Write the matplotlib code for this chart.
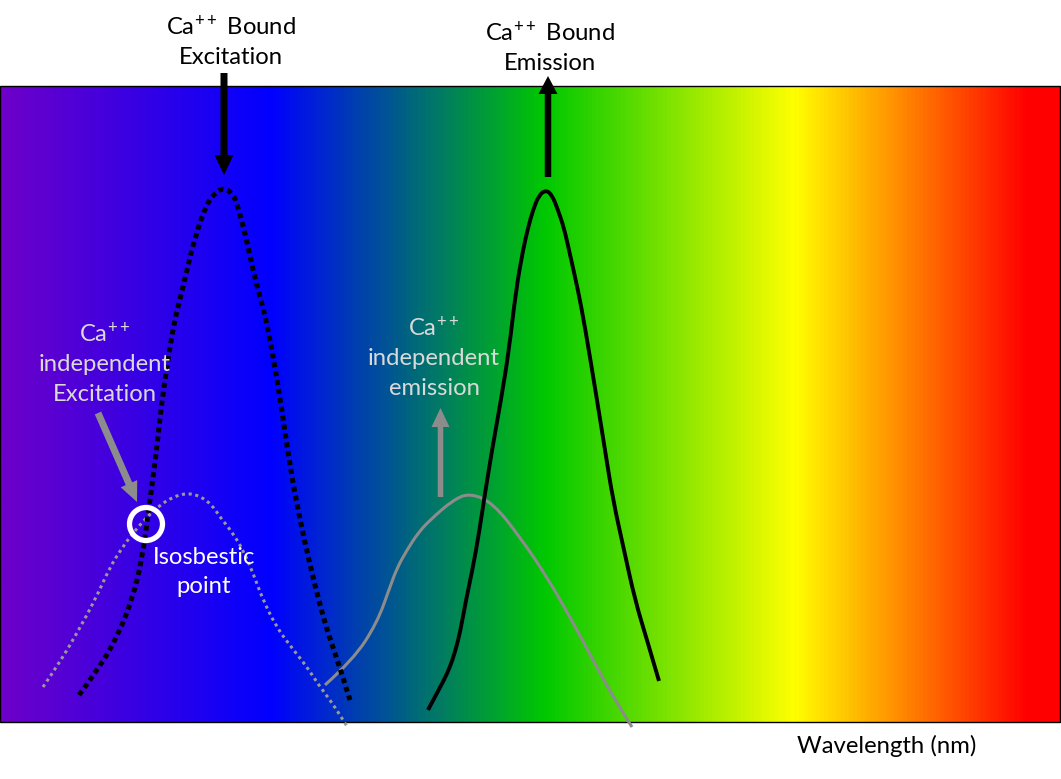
import numpy as np
import matplotlib.pyplot as plt
from matplotlib.colors import LinearSegmentedColormap
from matplotlib.patches import Rectangle, FancyArrow, Circle, PathPatch
from matplotlib.path import Path

plt.rcParams['font.family'] = ['Lato', 'DejaVu Sans']
plt.rcParams['mathtext.default'] = 'regular'

# spectrum colour stops (position across the band, colour)
spec_pos = [0.0, 0.255, 0.515, 0.75, 0.97, 1.0]
spec_col = ["#6e00c8", "#0000ff", "#00c800", "#ffff00", "#ff0000", "#ff0000"]

# Ca++ bound excitation (black dotted)
bound_ex_x = [79, 100, 118, 132, 142, 150, 156, 162, 168, 174, 181, 187, 195, 207, 216, 224,
              232, 237, 246, 253, 260, 267, 279, 290, 300, 310, 320, 328, 340, 350]
bound_ex_y = [695, 667, 635, 600, 560, 500, 455, 400, 360, 323, 295, 270, 237, 203, 192, 188,
              193, 203, 237, 270, 297, 323, 390, 467, 520, 565, 605, 633, 668, 700]

# Ca++ independent excitation (grey dotted)
indep_ex_x = [43, 60, 77, 95, 110, 122, 133, 146, 160, 173, 187, 200, 212, 220, 232, 243,
              253, 263, 277, 292, 307, 318, 330, 340, 348]
indep_ex_y = [687, 662, 633, 600, 567, 548, 533, 518, 505, 497, 493, 496, 505, 517, 532, 550,
              573, 600, 628, 648, 667, 684, 700, 715, 728]

# Ca++ bound emission (black solid)
bound_em_x = [428, 437, 444, 450, 455, 460, 466, 473, 479, 484, 492, 501, 509, 516, 523, 528,
              533, 539, 546, 552, 558, 564, 569, 578, 585, 597, 605, 613, 624, 635, 647, 659]
bound_em_y = [710, 693, 680, 667, 652, 633, 600, 567, 533, 500, 450, 400, 350, 290, 250, 228,
              210, 195, 190, 195, 210, 228, 250, 290, 327, 400, 450, 500, 550, 600, 640, 681]

# Ca++ independent emission (grey solid)
indep_em_x = [325, 353, 377, 390, 397, 407, 418, 430, 453, 470, 493, 520, 547, 570, 593, 613, 632]
indep_em_y = [685, 660, 623, 587, 568, 550, 533, 520, 500, 493, 503, 537, 577, 617, 660, 697, 727]

labels_top = ["Ca$^{++}$ Bound\nExcitation", "Ca$^{++}$ Bound\nEmission"]
label_indep_ex = "Ca$^{++}$\nindependent\nExcitation"
label_indep_em = "Ca$^{++}$\nindependent\nemission"
label_iso = "Isosbestic\npoint"
xlabel = "Wavelength (nm)"


def smooth_path(xs, ys):
    # quadratic bezier through midpoints, the points act as control points
    pts = np.column_stack([xs, ys]).astype(float)
    verts = [pts[0]]
    codes = [Path.MOVETO]
    for i in range(1, len(pts) - 1):
        mid = (pts[i] + pts[i + 1]) / 2
        if i == len(pts) - 2:
            mid = pts[i + 1]
        verts += [pts[i], mid]
        codes += [Path.CURVE3, Path.CURVE3]
    return Path(verts, codes)


fig = plt.figure(figsize=(10.61, 7.79), dpi=100)
ax = fig.add_axes([0, 0, 1, 1])
ax.set_xlim(0, 1061)
ax.set_ylim(779, 0)
ax.axis("off")

# spectrum background
cmap = LinearSegmentedColormap.from_list("spec", list(zip(spec_pos, spec_col)))
grad = np.linspace(0, 1, 1024).reshape(1, -1)
ax.imshow(grad, cmap=cmap, aspect="auto", extent=[0, 1060, 722, 86], zorder=0)
ax.add_patch(Rectangle((0, 86), 1060, 636, fill=False, edgecolor="black", lw=1.0, zorder=1))

# curves
curves = [
    (indep_ex_x, indep_ex_y, "#9a9a9a", 2.2, (0, (1, 1.2)), 2),
    (bound_ex_x, bound_ex_y, "black", 3.6, (0, (1, 0.8)), 3),
    (indep_em_x, indep_em_y, "#8c8c8c", 2.2, "-", 2),
    (bound_em_x, bound_em_y, "black", 2.8, "-", 3),
]
for xs, ys, col, lw, ls, z in curves:
    p = PathPatch(smooth_path(xs, ys), fill=False, edgecolor=col, lw=lw,
                  linestyle=ls, capstyle="butt", zorder=z)
    ax.add_patch(p)

# arrows
ax.add_patch(FancyArrow(224, 73, 0, 102, width=7, head_width=19, head_length=20,
                        length_includes_head=True, color="black", lw=0, zorder=4))
ax.add_patch(FancyArrow(548, 177, 0, -101, width=6.5, head_width=19, head_length=18,
                        length_includes_head=True, color="black", lw=0, zorder=4))
ax.add_patch(FancyArrow(98, 413, 39, 89, width=7, head_width=18, head_length=20,
                        length_includes_head=True, color="#8c8c8c", lw=0, zorder=4))
ax.add_patch(FancyArrow(440.5, 497, 0, -89, width=5.5, head_width=18, head_length=19,
                        length_includes_head=True, color="#8c8c8c", lw=0, zorder=4))

# isosbestic marker
ax.add_patch(Circle((146, 524), 16.5, fill=False, edgecolor="white", lw=3.8, zorder=5))

# texts
fs = 17.2
ls_ = 1.5
ax.text(231, 41, labels_top[0], ha="center", va="center", fontsize=fs, color="black",
        linespacing=ls_)
ax.text(550, 47, labels_top[1], ha="center", va="center", fontsize=fs, color="black",
        linespacing=ls_)
ax.text(105, 363, label_indep_ex, ha="center", va="center", fontsize=fs, color="#d9d9d9",
        linespacing=ls_)
ax.text(434, 357, label_indep_em, ha="center", va="center", fontsize=fs, color="#d9d9d9",
        linespacing=ls_)
ax.text(204, 572, label_iso, ha="center", va="center", fontsize=fs, color="white",
        linespacing=ls_)
ax.text(887, 746, xlabel, ha="center", va="center", fontsize=fs, color="black")

fig.savefig("out.png", dpi=100)
